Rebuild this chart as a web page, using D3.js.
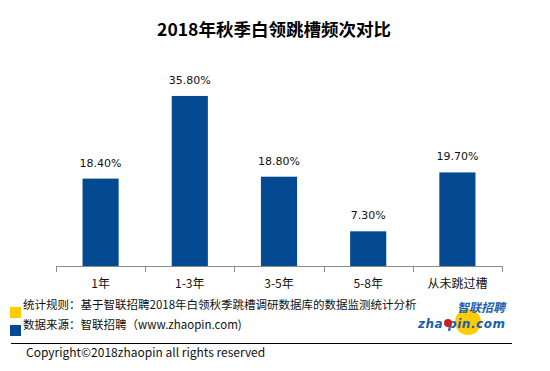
<!DOCTYPE html>
<html>
<head>
<meta charset="utf-8">
<script src="https://cdn.jsdelivr.net/npm/d3@7"></script>
<style>
  body { margin: 0; background: #fff; }
  svg { display: block; font-family: 'Noto Sans CJK SC', 'Open Sans', sans-serif; }
</style>
</head>
<body>
<div id="chart"></div>
<script>
const categories = ['1年', '1-3年', '3-5年', '5-8年', '从未跳过槽']
const values = [18.4, 35.8, 18.8, 7.3, 19.7]
const title = '2018年秋季白领跳槽频次对比'
const notes = [
  { color: '#FFCC00', text: '统计规则：基于智联招聘2018年白领秋季跳槽调研数据库的数据监测统计分析' },
  { color: '#034A93', text: '数据来源：智联招聘（www.zhaopin.com)' },
]

const width = 550
const height = 371
const margin = { top: 76, right: 48, bottom: 105, left: 56 }
const barColor = '#034A93'

const svg = d3.select('#chart').append('svg')
  .attr('width', width)
  .attr('height', height)

// title
svg.append('text')
  .attr('x', 274)
  .attr('y', 36)
  .attr('text-anchor', 'middle')
  .attr('font-size', 17.5)
  .attr('font-weight', 'bold')
  .attr('fill', '#000')
  .text(title)

const x = d3.scaleBand()
  .domain(categories)
  .range([margin.left, width - margin.right])
  .paddingInner(0.595)
  .paddingOuter(0.2975)

const y = d3.scaleLinear()
  .domain([0, 40])
  .range([height - margin.bottom, margin.top])

const bounds = svg.append('g')

bounds.selectAll('rect.bar')
  .data(values)
  .join('rect')
  .attr('class', 'bar')
  .attr('x', (d, i) => x(categories[i]))
  .attr('y', (d) => y(d))
  .attr('width', x.bandwidth())
  .attr('height', (d) => y(0) - y(d))
  .attr('fill', barColor)

bounds.selectAll('text.val')
  .data(values)
  .join('text')
  .attr('class', 'val')
  .attr('x', (d, i) => x(categories[i]) + x.bandwidth() / 2)
  .attr('y', (d) => y(d) - 12)
  .attr('text-anchor', 'middle')
  .attr('font-size', 11)
  .attr('font-family', "'DejaVu Sans', sans-serif")
  .attr('fill', '#111')
  .text((d) => d.toFixed(2) + '%')

// x axis with ticks between bands
const axisY = y(0)
const [r0, r1] = x.range()
const step = x.step()
const tickXs = d3.range(categories.length + 1).map((i) => r0 + i * step)
const axis = svg.append('g').attr('stroke', '#8c8c8c').attr('stroke-width', 1)
axis.append('line')
  .attr('x1', r0).attr('x2', r1)
  .attr('y1', axisY + 0.5).attr('y2', axisY + 0.5)
axis.selectAll('line.tick')
  .data(tickXs)
  .join('line')
  .attr('class', 'tick')
  .attr('x1', (d) => Math.round(d) + 0.5).attr('x2', (d) => Math.round(d) + 0.5)
  .attr('y1', axisY).attr('y2', axisY + 6)

svg.selectAll('text.cat')
  .data(categories)
  .join('text')
  .attr('class', 'cat')
  .attr('x', (d) => x(d) + x.bandwidth() / 2)
  .attr('y', axisY + 22)
  .attr('text-anchor', 'middle')
  .attr('font-size', 12)
  .attr('fill', '#111')
  .text((d) => d)

// footer notes
notes.forEach((n, i) => {
  const cy = 313 + i * 18
  svg.append('rect')
    .attr('x', 10).attr('y', cy - 6)
    .attr('width', 11).attr('height', 11)
    .attr('fill', n.color)
  svg.append('text')
    .attr('x', 23).attr('y', cy - 2 + (i === 0 ? -2 : 0))
    .attr('font-size', 11.5)
    .attr('fill', '#111')
    .text(n.text)
})

svg.append('line')
  .attr('x1', 11).attr('x2', 512)
  .attr('y1', 343.5).attr('y2', 343.5)
  .attr('stroke', '#000').attr('stroke-width', 1)

svg.append('text')
  .attr('x', 26).attr('y', 357)
  .attr('font-size', 12)
  .attr('fill', '#111')
  .text('Copyright©2018zhaopin all rights reserved')

// logo
const logo = svg.append('g')
logo.append('circle').attr('cx', 468).attr('cy', 322).attr('r', 13).attr('fill', '#FFCC00')
logo.append('text')
  .attr('x', 481).attr('y', 312)
  .attr('text-anchor', 'middle')
  .attr('font-size', 12)
  .attr('font-weight', 'bold')
  .attr('font-style', 'italic')
  .attr('fill', '#1b5fb0')
  .text('智联招聘')
logo.append('text')
  .attr('x', 418).attr('y', 328)
  .attr('font-size', 12)
  .attr('font-weight', 'bold')
  .attr('font-style', 'italic')
  .attr('font-family', "'DejaVu Sans', sans-serif")
  .attr('textLength', 87)
  .attr('fill', '#1b5fb0')
  .text('zha pin.com')
logo.append('circle').attr('cx', 448).attr('cy', 323).attr('r', 4).attr('fill', '#cc1f1f')
</script>
</body>
</html>
